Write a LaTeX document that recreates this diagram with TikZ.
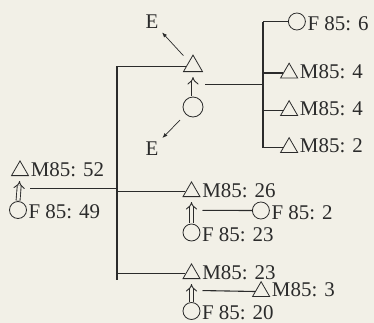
\documentclass[tikz,border=0pt]{standalone}
\usepackage{fontspec}
\setmainfont{Liberation Serif}
\usetikzlibrary{arrows.meta,shapes.geometric}
\definecolor{ink}{HTML}{2B2B2B}
\definecolor{paper}{HTML}{F2F0E7}

\begin{document}
\begin{tikzpicture}[
    x=1bp,
    y=-1bp,
    font=\fontsize{21}{24}\selectfont,
    text=ink,
    line/.style={draw=ink, line width=1.1bp},
    male/.style={
        regular polygon,
        regular polygon sides=3,
        draw=ink,
        line width=0.8bp,
        minimum size=19.6bp,
        inner sep=0pt
    },
    female/.style={circle, draw=ink, line width=0.8bp, minimum size=17bp, inner sep=0pt},
    tag/.style={anchor=base west, inner sep=0pt, xshift=1.5bp},
    wed/.style={draw=ink, line width=0.9bp, double=paper, double distance=3bp,
        -{Implies}, shorten <=0.5bp, shorten >=5bp},
    elink/.style={draw=ink, line width=0.7bp, -{Latex[length=5bp,width=4bp]},
        shorten <=8bp, shorten >=4bp}
]
\useasboundingbox (0,0) rectangle (374,323);
\fill[paper] (0,0) rectangle (374,323);

% Parents on the left.
\node[male, anchor=south] (t0) at (20,176) {};
\node[female] (c0) at (18,210) {};
\node[tag] at (t0.corner 3) {M85: 52};
\node[tag] at (c0.east |- c0.south) {F 85: 49};
\draw[wed] (c0.north) -- (t0.south) coordinate[midway] (u0);

\coordinate (j0) at (117,0);
\draw[line] ([xshift=11bp]u0) -- (j0 |- u0);

% First child couple, both partners gone (E).
\node[male, minimum size=22bp, anchor=south] (t1) at (193,72) {};
\node[female, minimum size=20bp] (c1) at (193,107) {};
\draw[wed] (c1.north) -- (t1.south) coordinate[midway] (u1);
\node[inner sep=1bp] (e1) at (152,21.5) {E};
\node[inner sep=1bp] (e2) at (152,148.5) {E};
\draw[elink] (t1) -- (e1);
\draw[elink] (c1) -- (e2);

% Second and third child couples.
\node[male, anchor=south] (t2) at (191.5,197) {};
\node[female] (c2) at (191.5,232.5) {};
\node[tag] at (t2.corner 3) {M85: 26};
\node[tag] at (c2.east |- c2.south) {F 85: 23};
\draw[wed] (c2.north) -- (t2.south) coordinate[midway] (u2);

\node[male, anchor=south] (t3) at (191.5,279) {};
\node[female] (c3) at (191.5,311) {};
\node[tag] at (t3.corner 3) {M85: 23};
\node[tag] at (c3.east |- c3.south) {F 85: 20};
\draw[wed] (c3.north) -- (t3.south) coordinate[midway] (u3);

% Sibship line of the parents.
\draw[line] (j0 |- t1.west) -- (j0 |- t3.west) -- ++(0,6);
\draw[line] (j0 |- t1.west) -- (t1.west);
\draw[line] (j0 |- t2.west) -- (t2.west);
\draw[line] (j0 |- t3.west) -- (t3.west);

% Spouses' own lines.
\node[female, anchor=west] (s2) at (252,210.5) {};
\node[tag] at (s2.east |- s2.south) {F 85: 2};
\draw[line] ([xshift=11bp]u2) -- (s2.west);

\node[male, anchor=west] (s3) at (255,291.5) {};
\node[tag] at (s3.corner 3) {M85: 3};
\draw[line] ([xshift=11bp]u3) -- (s3.west);

% Children of the first couple.
\coordinate (j1) at (263,0);
\draw[line] ([xshift=12bp]u1) -- (j1 |- u1);

\node[female, anchor=west] (k1) at (288,21.5) {};
\node[male, anchor=west] (k2) at (283,73) {};
\node[male, anchor=west] (k3) at (283,110.5) {};
\node[male, anchor=west] (k4) at (283,147.5) {};
\node[tag] at (k1.east |- k1.south) {F 85: 6};
\node[tag] at (k2.corner 3) {M85: 4};
\node[tag] at (k3.corner 3) {M85: 4};
\node[tag] at (k4.corner 3) {M85: 2};

\draw[line] (j1 |- k1.west) -- (j1 |- k4.west);
\foreach \k in {k1,k2,k3,k4}
    \draw[line] (j1 |- \k.west) -- (\k.west);

\end{tikzpicture}
\end{document}
